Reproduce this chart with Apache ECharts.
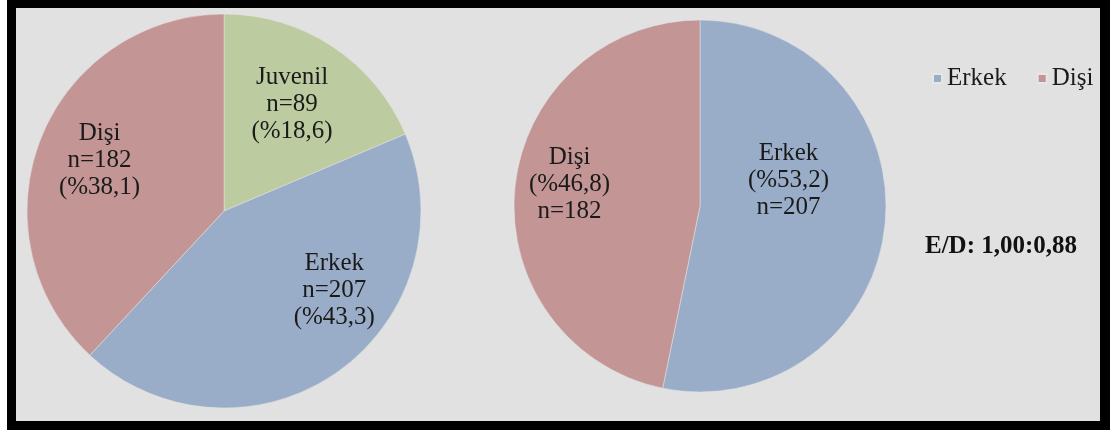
<!DOCTYPE html>
<html>
<head>
<meta charset="utf-8">
<script src="https://cdn.jsdelivr.net/npm/echarts@6/dist/echarts.min.js"></script>
<style>
html,body{margin:0;padding:0;background:#ffffff;}
#frame{position:absolute;left:7px;top:0;width:1103px;height:430px;background:#000;}
#chart{position:absolute;left:16px;top:8px;width:1084px;height:413px;background:#e1e1e1;}
</style>
</head>
<body>
<div id="frame"></div>
<div id="chart"></div>
<script>
const leftNames = ['Juvenil', 'Erkek', 'Dişi'];
const leftValues = [89, 207, 182];
const rightNames = ['Erkek', 'Dişi'];
const rightValues = [207, 182];
const legendNames = ['Erkek', 'Dişi'];
const ratioText = 'E/D: 1,00:0,88';

const colors = { 'Erkek': '#9aadc8', 'Dişi': '#c39595', 'Juvenil': '#bdcba0' };
const leftOffsets = { 'Juvenil': [12, -22], 'Erkek': [52, -4], 'Dişi': [-30, -13] };
const rightOffsets = { 'Erkek': [-7, -35], 'Dişi': [-35, -12] };

function pct(p) { return p.percent.toFixed(1).replace('.', ','); }

const fam = '"Liberation Serif", "Times New Roman", serif';

const chart = echarts.init(document.getElementById('chart'), null, { renderer: 'canvas' });
chart.setOption({
  animation: false,
  backgroundColor: '#e1e1e1',
  title: {
    text: ratioText,
    left: 904, top: 221,
    textStyle: { fontFamily: fam, fontSize: 25, fontWeight: 'bold', color: '#111' }
  },
  legend: {
    data: legendNames,
    left: 916, top: 58,
    padding: 0,
    itemWidth: 9, itemHeight: 9, itemGap: 30,
    icon: 'rect',
    textStyle: { fontFamily: fam, fontSize: 25, color: '#1a1a1a' }
  },
  series: [
    {
      type: 'pie',
      center: [208, 203],
      radius: [0, 197],
      startAngle: 90,
      clockwise: true,
      silent: true,
      itemStyle: { borderColor: '#e6e6e6', borderWidth: 0.5 },
      label: {
        position: 'inside',
        formatter: p => p.name + '\nn=' + p.value + '\n(%' + pct(p) + ')',
        fontFamily: fam, fontSize: 25, color: '#1a1a1a', lineHeight: 27
      },
      labelLine: { show: false },
      data: leftNames.map((n, i) => ({
        name: n, value: leftValues[i],
        itemStyle: { color: colors[n] },
        label: { offset: leftOffsets[n] }
      }))
    },
    {
      type: 'pie',
      center: [684, 198],
      radius: [0, 186],
      startAngle: 90,
      clockwise: true,
      silent: true,
      itemStyle: { borderColor: '#e6e6e6', borderWidth: 0.5 },
      label: {
        position: 'inside',
        formatter: p => p.name + '\n(%' + pct(p) + ')\nn=' + p.value,
        fontFamily: fam, fontSize: 25, color: '#1a1a1a', lineHeight: 27
      },
      labelLine: { show: false },
      data: rightNames.map((n, i) => ({
        name: n, value: rightValues[i],
        itemStyle: { color: colors[n] },
        label: { offset: rightOffsets[n] }
      }))
    }
  ]
});
</script>
</body>
</html>
